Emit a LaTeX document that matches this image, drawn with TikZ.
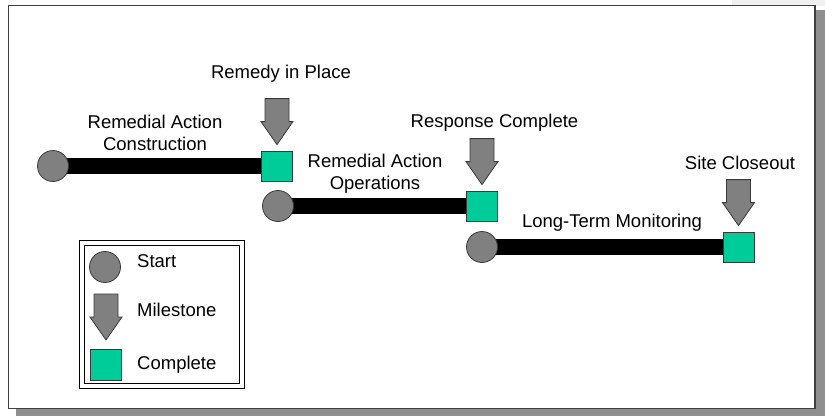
\documentclass[tikz,border=0pt]{standalone}
\usepackage{fontspec}
\setmainfont{Liberation Sans}
\usetikzlibrary{backgrounds}
\pgfdeclarelayer{back}
\pgfsetlayers{back,background,main}
\definecolor{shadowc}{HTML}{8F8F92}
\definecolor{faintc}{HTML}{F0F0F0}
\definecolor{framec}{HTML}{404040}
\definecolor{grayfill}{HTML}{808080}
\definecolor{edgec}{HTML}{3A3A3A}
\definecolor{tealc}{HTML}{00CC99}
\tikzset{
  startnode/.style={circle, draw=edgec, line width=0.8pt, fill=grayfill, minimum size=31pt, inner sep=0pt},
  donenode/.style={rectangle, draw=edgec, line width=0.8pt, fill=tealc, minimum width=31pt, minimum height=30pt, inner sep=0pt},
  barline/.style={line width=16pt, black},
  lbl/.style={font=\fontsize{18.5}{21.5}\selectfont, inner sep=0pt, anchor=base, align=center},
  legtxt/.style={font=\fontsize{18.5}{21}\selectfont, inner sep=0pt, anchor=base west},
  milestone/.pic={\draw[draw=edgec, line width=0.8pt, fill=grayfill]
      (-12,-46) -- (12,-46) -- (12,-23) -- (16,-23) -- (0,0) -- (-16,-23) -- (-12,-23) -- cycle;}
}
\begin{document}
\begin{tikzpicture}[x=1pt,y=-1pt]
\useasboundingbox (0,0) rectangle (825,416);
\begin{pgfonlayer}{back}
  \fill[faintc] (732,0) rectangle (825,6);
  \fill[shadowc] (16,10) rectangle (825,416);
  \draw[framec, line width=1.3pt, fill=white] (8.5,5.5) rectangle (815,408.5);
\end{pgfonlayer}

% row 1
\node[startnode] (c1) at (53,166) {};
\node[donenode] (s1) at (277,166) {};
\path (s1.north) ++(0,-6) pic {milestone};
\node[lbl] (t1) at (281,78) {Remedy in Place};
\node[lbl] (t2) at (155,150) {Remedial Action\\Construction};

% row 2
\node[startnode] (c2) at (278,206) {};
\node[donenode] (s2) at (482,206) {};
\path (s2.north) ++(0,-6) pic {milestone};
\node[lbl] (t3) at (494.5,127.5) {Response Complete};
\node[lbl] (t4) at (375,189) {Remedial Action\\Operations};

% row 3
\node[startnode] (c3) at (482,247) {};
\node[donenode] (s3) at (738.5,247) {};
\path (s3.north) ++(0,-6) pic {milestone};
\node[lbl] (t5) at (740,169.5) {Site Closeout};
\node[lbl] (t6) at (612,227) {Long-Term Monitoring};

\begin{pgfonlayer}{background}
  \draw[barline] (c1.center) -- (s1.west);
  \draw[barline] (c2.center) -- (s2.west);
  \draw[barline] (c3.center) -- (s3.west);
\end{pgfonlayer}

% legend
\draw[black, line width=0.8pt, fill=white] (79,240) rectangle (244,388);
\draw[black, line width=0.8pt] (84,245) rectangle (239,383);
\node[startnode] (lc) at (105,267) {};
\path (106,340) pic {milestone};
\node[donenode, minimum height=31pt] (ls) at (106,365) {};
\node[legtxt] (lt1) at (137,267) {Start};
\node[legtxt] (lt2) at (137,316) {Milestone};
\node[legtxt] (lt3) at (137,369.5) {Complete};
\end{tikzpicture}
\end{document}
